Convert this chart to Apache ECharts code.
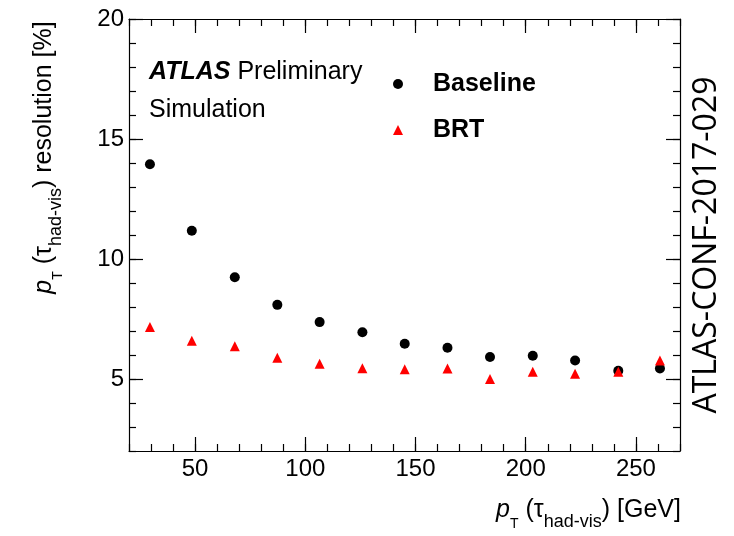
<!DOCTYPE html>
<html><head><meta charset="utf-8">
<script src="https://cdn.jsdelivr.net/npm/echarts@6/dist/echarts.min.js"></script>
<style>html,body{margin:0;padding:0;background:#fff;}#c{width:734px;height:536px;}</style>
</head><body><div id="c"></div>
<script>
// ---- data ----
const ptBins = [29.5, 48.5, 68.0, 87.3, 106.5, 125.9, 145.1, 164.5, 183.8, 203.2, 222.4, 242.0, 260.9];
const baseline = [13.95, 11.18, 9.24, 8.09, 7.37, 6.95, 6.47, 6.30, 5.92, 5.97, 5.77, 5.34, 5.44];
const brt = [7.17, 6.59, 6.36, 5.89, 5.64, 5.45, 5.41, 5.44, 5.00, 5.30, 5.22, 5.30, 5.77];
const xMajorTicks = [50, 100, 150, 200, 250];
const yMajorTicks = [5, 10, 15, 20];
const seriesNames = ['Baseline', 'BRT'];
const xRange = [20, 270];
const yRange = [2, 20];

const FONT = 'Liberation Sans, Arial, Helvetica, sans-serif';
const pairs = (xs, ys) => xs.map((x, i) => [x, ys[i]]);

function majorAxis(pos, showLabel, range, ticks, extra) {
  return Object.assign({
    type: 'value', position: pos, min: range[0], max: range[1],
    axisLine: { show: true, onZero: false, lineStyle: { color: '#000', width: 1.2 } },
    axisTick: { show: true, inside: true, length: 14, customValues: ticks, lineStyle: { color: '#000', width: 1.2 } },
    axisLabel: { show: showLabel, customValues: ticks, color: '#000', fontSize: 24, fontFamily: FONT },
    splitLine: { show: false }
  }, extra || {});
}
function minorAxis(pos, range, step) {
  return {
    type: 'value', position: pos, min: range[0], max: range[1], interval: step,
    axisLine: { show: false, onZero: false },
    axisTick: { show: true, inside: true, length: 7, lineStyle: { color: '#000', width: 1.2 } },
    axisLabel: { show: false }, splitLine: { show: false }
  };
}

const mainRich = { fontSize: 25, fontFamily: FONT, color: '#000', lineHeight: 42 };
const richStyles = {
  p: Object.assign({}, mainRich, { fontStyle: 'italic' }),
  n: mainRich,
  T: { fontSize: 14, fontFamily: FONT, color: '#000', lineHeight: 14, verticalAlign: 'bottom' },
  s: { fontSize: 18, fontFamily: FONT, color: '#000', lineHeight: 18, verticalAlign: 'bottom' }
};

const chart = echarts.init(document.getElementById('c'), null, { renderer: 'canvas' });
chart.setOption({
  backgroundColor: '#fff',
  animation: false,
  grid: { left: 129, right: 54, top: 19, bottom: 80, containLabel: false },
  xAxis: [
    majorAxis('bottom', true, xRange, xMajorTicks, {
      axisLabel: { show: true, customValues: xMajorTicks, color: '#000', fontSize: 24, fontFamily: FONT, margin: 6 },
      name: '{p|p}{T|T}{n| (τ}{s|had-vis}{n|) [GeV]}',
      nameLocation: 'middle', nameGap: 38,
      nameTextStyle: { rich: richStyles, padding: [0, 0, 0, 368] }
    }),
    minorAxis('bottom', xRange, 10),
    majorAxis('top', false, xRange, xMajorTicks),
    minorAxis('top', xRange, 10)
  ],
  yAxis: [
    majorAxis('left', true, yRange, yMajorTicks, {
      axisLabel: { show: true, customValues: yMajorTicks, color: '#000', fontSize: 24, fontFamily: FONT, margin: 5 },
      name: '{p|p}{T|T}{n| (τ}{s|had-vis}{n|) resolution [%]}',
      nameLocation: 'middle', nameRotate: 90, nameGap: 64,
      nameTextStyle: { rich: richStyles, padding: [0, 0, 0, 155] }
    }),
    minorAxis('left', yRange, 1),
    majorAxis('right', false, yRange, yMajorTicks),
    minorAxis('right', yRange, 1)
  ],
  legend: {
    orient: 'vertical', left: 393, top: 70, padding: 0,
    itemWidth: 10, itemHeight: 10, itemGap: 18,
    data: [
      { name: seriesNames[0], icon: 'circle' },
      { name: seriesNames[1], icon: 'triangle' }
    ],
    textStyle: { fontSize: 25, fontWeight: 'bold', fontFamily: FONT, color: '#000', lineHeight: 28, padding: [0, 0, 0, 25] }
  },
  graphic: [
    { type: 'text', left: 149, top: 60,
      style: { text: '{a|ATLAS}{b| Preliminary}', rich: {
        a: { fontSize: 25, fontWeight: 'bold', fontStyle: 'italic', fontFamily: FONT, fill: '#000' },
        b: { fontSize: 25, fontFamily: FONT, fill: '#000' } } } },
    { type: 'text', left: 149, top: 98,
      style: { text: 'Simulation', fontSize: 25, fontFamily: FONT, fill: '#000' } },
    { type: 'text', x: 707, y: 245, rotation: Math.PI / 2,
      style: { text: 'ATLAS-CONF-2017-029', fontSize: 32, fontFamily: 'Open Sans, Noto Sans, sans-serif', fill: '#000', align: 'center', verticalAlign: 'middle' } }
  ],
  series: [
    { name: seriesNames[0], type: 'scatter', xAxisIndex: 0, yAxisIndex: 0,
      symbol: 'circle', symbolSize: 10, itemStyle: { color: '#000', opacity: 1 },
      data: pairs(ptBins, baseline), z: 3 },
    { name: seriesNames[1], type: 'scatter', xAxisIndex: 0, yAxisIndex: 0,
      symbol: 'triangle', symbolSize: 10, itemStyle: { color: '#ff0000', opacity: 1 },
      data: pairs(ptBins, brt), z: 4 }
  ]
});
</script></body></html>
